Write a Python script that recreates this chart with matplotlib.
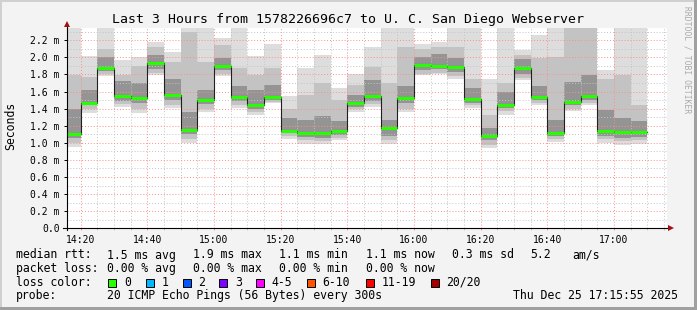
import matplotlib
matplotlib.use("Agg")
import matplotlib.pyplot as plt
from matplotlib.ticker import MultipleLocator, FuncFormatter
from matplotlib.lines import Line2D
from matplotlib.patches import Rectangle

# SmokePing data, one entry per 5 minute step (left edge of the step)
step_start = ["14:15", "14:20", "14:25", "14:30", "14:35", "14:40", "14:45",
              "14:50", "14:55", "15:00", "15:05", "15:10", "15:15", "15:20",
              "15:25", "15:30", "15:35", "15:40", "15:45", "15:50", "15:55",
              "16:00", "16:05", "16:10", "16:15", "16:20", "16:25", "16:30",
              "16:35", "16:40", "16:45", "16:50", "16:55", "17:00", "17:05"]

# values in ms
median = [1.10, 1.47, 1.875, 1.545, 1.52, 1.93, 1.56, 1.15, 1.50, 1.895, 1.53, 1.44,
          1.535, 1.14, 1.12, 1.115, 1.135, 1.46, 1.547, 1.177, 1.52, 1.905, 1.895,
          1.883, 1.515, 1.085, 1.442, 1.87, 1.536, 1.12, 1.474, 1.547, 1.138, 1.123, 1.126]
rtt_min = [0.95, 1.35, 1.78, 1.42, 1.35, 1.79, 1.41, 1.00, 1.36, 1.78, 1.41, 1.32,
           1.46, 1.05, 0.99, 0.99, 1.03, 1.36, 1.42, 0.99, 1.36, 1.79, 1.80,
           1.75, 1.41, 0.94, 1.33, 1.73, 1.44, 1.01, 1.37, 1.44, 1.00, 0.98, 0.99]
rtt_max = [2.45, 2.01, 2.34, 1.97, 2.00, 2.18, 2.06, 2.45, 2.34, 2.22, 2.45, 2.01,
           2.16, 1.55, 1.88, 2.03, 1.64, 1.80, 2.12, 2.45, 2.45, 2.16, 2.18,
           2.34, 2.45, 1.75, 2.45, 2.09, 2.26, 2.45, 2.45, 2.45, 1.85, 2.45, 2.45]
band_lo = [1.00, 1.40, 1.80, 1.45, 1.40, 1.82, 1.44, 1.05, 1.40, 1.81, 1.44, 1.36,
           1.48, 1.08, 1.03, 1.02, 1.06, 1.39, 1.45, 1.03, 1.40, 1.81, 1.82,
           1.78, 1.44, 0.98, 1.37, 1.76, 1.47, 1.04, 1.40, 1.47, 1.04, 1.02, 1.03]
band_hi = [1.79, 1.77, 2.10, 1.79, 1.90, 2.12, 1.95, 2.30, 1.95, 2.14, 1.87, 1.79,
           1.87, 1.40, 1.56, 1.70, 1.50, 1.68, 1.89, 1.70, 2.12, 2.10, 2.12,
           2.12, 1.75, 1.33, 1.70, 2.03, 1.99, 2.00, 2.36, 2.36, 1.75, 1.79, 1.44]
core_lo = [1.06, 1.44, 1.84, 1.49, 1.46, 1.86, 1.50, 1.10, 1.45, 1.85, 1.49, 1.40,
           1.50, 1.11, 1.07, 1.06, 1.09, 1.42, 1.49, 1.08, 1.46, 1.85, 1.86,
           1.83, 1.47, 1.03, 1.41, 1.80, 1.50, 1.08, 1.44, 1.50, 1.08, 1.06, 1.07]
core_hi = [1.40, 1.62, 2.00, 1.72, 1.70, 2.03, 1.75, 1.36, 1.62, 1.99, 1.66, 1.62,
           1.68, 1.29, 1.27, 1.31, 1.25, 1.56, 1.73, 1.27, 1.66, 2.00, 2.04,
           1.99, 1.64, 1.17, 1.60, 1.98, 1.66, 1.27, 1.71, 1.79, 1.38, 1.29, 1.25]

loss_labels = ["0", "1", "2", "3", "4-5", "6-10", "11-19", "20/20"]
loss_colors = ["#26ff00", "#00b8ff", "#0059ff", "#7e00ff", "#ff00ff", "#ff5500", "#ff0000", "#a00000"]

title = "Last 3 Hours from 1578226696c7 to U. C. San Diego Webserver"
MONO = "DejaVu Sans Mono"
W, H = 697, 310
STEP = 5


def to_min(hhmm):
    h, m = hhmm.split(":")
    return int(h) * 60 + int(m)


def fx(px):
    return px / W


def fy(py):
    return 1 - py / H


def main():
    x = [to_min(t) for t in step_start]
    t_start = to_min("14:15") + 55 / 60
    t_end = t_start + 180

    fig = plt.figure(figsize=(W / 100, H / 100), dpi=100, facecolor="#f3f3f3")
    ax = fig.add_axes([fx(67), fy(228.3), 600 / W, 200.3 / H])
    ax.set_facecolor("white")
    ax.set_xlim(t_start, t_end)
    ax.set_ylim(0, 200.3 / 85.5)

    # smoke, outer to inner
    layers = [(rtt_min, rtt_max, "#dddddd"),
              (band_lo, band_hi, "#c3c3c3"),
              (core_lo, core_hi, "#949494")]
    for lo, hi, col in layers:
        ax.bar(x, [h - l for l, h in zip(lo, hi)], bottom=lo, width=STEP, align="edge",
               color=col, linewidth=0, antialiased=False, zorder=1)

    # median line
    edges = x + [x[-1] + STEP]
    ax.step(edges, median + [median[-1]], where="post", color="#202020", lw=0.8, zorder=3)
    ax.hlines(median, x, [v + STEP for v in x], color=loss_colors[0], lw=2.2, zorder=4)

    # grid
    ax.xaxis.set_major_locator(MultipleLocator(20))
    ax.xaxis.set_minor_locator(MultipleLocator(5))
    ax.yaxis.set_major_locator(MultipleLocator(0.2))
    ax.yaxis.set_minor_locator(MultipleLocator(0.1))
    ax.set_axisbelow(False)
    ax.grid(which="major", color="#ff8c8c", lw=0.7, linestyle=(0, (1, 2)))
    ax.grid(which="minor", color="#c4c4c4", lw=0.7, linestyle=(0, (1, 2)))

    ax.xaxis.set_major_formatter(FuncFormatter(
        lambda v, p: "%02d:%02d" % (int(round(v)) // 60, int(round(v)) % 60)))
    ax.yaxis.set_major_formatter(FuncFormatter(
        lambda v, p: "0.0" if abs(v) < 1e-9 else "%.1f m" % v))
    ax.tick_params(axis="y", which="major", length=2.2, width=0.7, color="black", pad=3)
    ax.tick_params(axis="y", which="minor", length=0)
    ax.tick_params(axis="x", which="major", length=1.5, width=0.7, color="#ff8c8c", pad=3)
    ax.tick_params(axis="x", which="minor", length=1.5, width=0.7, color="#c4c4c4")
    for lab in ax.get_xticklabels() + ax.get_yticklabels():
        lab.set_fontfamily(MONO)
        lab.set_fontsize(7)

    for s in ax.spines.values():
        s.set_visible(False)

    # axis lines with arrows
    ax.add_line(Line2D([-0.007, 1.004], [0, 0], transform=ax.transAxes,
                       color="black", lw=0.8, clip_on=False, zorder=5))
    ax.add_line(Line2D([0, 0], [-0.01, 1.018], transform=ax.transAxes,
                       color="black", lw=0.8, clip_on=False, zorder=5))
    ax.plot([1.007], [0], marker=">", ms=4.5, color="#a01010", mew=0,
            transform=ax.transAxes, clip_on=False, zorder=6)
    ax.plot([0], [1.022], marker="^", ms=4.5, color="#a01010", mew=0,
            transform=ax.transAxes, clip_on=False, zorder=6)

    # titles
    fig.text(fx(347.5), fy(23.5), title, ha="center", va="baseline",
             fontsize=9.5, family=MONO)
    fig.text(fx(11), fy(126), "Seconds", rotation=90, ha="center", va="center",
             fontsize=8.3, family=MONO)
    fig.text(fx(687), fy(60), "RRDTOOL / TOBI OETIKER", rotation=270, ha="center",
             va="center", fontsize=5.8, color="#aaaaaa", family=MONO)

    # legend rows
    rows = [
        (258.5, [(16, "median rtt:"), (106.7, "1.5 ms avg"), (193.3, "1.9 ms max"),
                 (279.3, "1.1 ms min"), (366, "1.1 ms now"), (451.7, "0.3 ms sd"),
                 (530, "5.2"), (572.3, "am/s")]),
        (272, [(16, "packet loss:"), (106.7, "0.00 % avg"), (193.3, "0.00 % max"),
               (279.3, "0.00 % min"), (366, "0.00 % now")]),
        (285.5, [(16, "loss color:")]),
        (299, [(16, "probe:"), (106.7, "20 ICMP Echo Pings (56 Bytes) every 300s"),
               (513.3, "Thu Dec 25 17:15:55 2025")]),
    ]
    for base, items in rows:
        for px, txt in items:
            fig.text(fx(px), fy(base), txt, ha="left", va="baseline",
                     fontsize=8.3, family=MONO)

    box_x = [108.3, 145.7, 182.7, 219.3, 256, 306.7, 365.7, 430.7]
    for bx, lab, col in zip(box_x, loss_labels, loss_colors):
        fig.add_artist(Rectangle((fx(bx), fy(286.5)), 8 / W, 8 / H, transform=fig.transFigure,
                                 facecolor=col, edgecolor="black", lw=0.7))
        fig.text(fx(bx + 15.5), fy(285.5), lab, ha="left", va="baseline",
                 fontsize=8.3, family=MONO)

    # frame around the canvas
    fig.add_artist(Rectangle((0, fy(2)), 1, 2 / H, transform=fig.transFigure,
                             color="#d0d0d0", lw=0))
    fig.add_artist(Rectangle((0, 0), 2 / W, 1, transform=fig.transFigure,
                             color="#d0d0d0", lw=0))
    fig.add_artist(Rectangle((0, 0), 1, 3 / H, transform=fig.transFigure,
                             color="#a0a0a0", lw=0))
    fig.add_artist(Rectangle((fx(694), 0), 3 / W, 1, transform=fig.transFigure,
                             color="#a0a0a0", lw=0))

    fig.savefig("out.png", dpi=100, facecolor=fig.get_facecolor())


if __name__ == "__main__":
    main()
